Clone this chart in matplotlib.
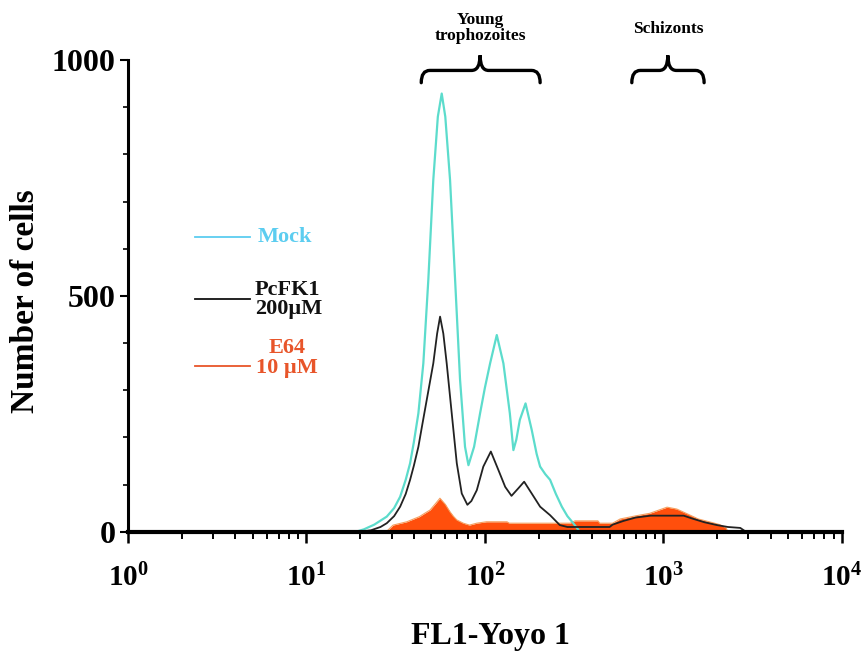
import matplotlib
matplotlib.use("Agg")
import matplotlib.pyplot as plt
from matplotlib.path import Path
from matplotlib.patches import PathPatch
from matplotlib.lines import Line2D
import numpy as np

plt.rcParams['font.family'] = ['Liberation Serif', 'DejaVu Serif']
plt.rcParams['font.weight'] = 'bold'
plt.rcParams['mathtext.fontset'] = 'custom'
plt.rcParams['mathtext.rm'] = 'Liberation Serif:bold'
plt.rcParams['mathtext.bf'] = 'Liberation Serif:bold'
plt.rcParams['mathtext.it'] = 'Liberation Serif:bold'

# Mock histogram (FL1 value, count)
mock_x = [1, 19, 21, 24, 28.2, 31, 33.5, 36, 38.1, 40, 42.4, 45.2, 48.2, 51.4, 54.5, 57.3,
          60, 63.8, 68.1, 72.6, 77.4, 80.9, 87, 94, 100, 107, 116.6, 127, 138, 144.5, 150,
          157, 169, 183, 195, 204, 218, 232, 250, 270, 290, 313, 340, 10000]
mock_y = [0, 0, 5, 15, 32, 50, 74, 110, 145, 190, 251, 357, 534, 746, 880, 929,
          880, 746, 534, 322, 180, 141, 180, 251, 305, 357, 417, 357, 251, 173, 195,
          237, 272, 216, 165, 138, 122, 110, 80, 53, 33, 18, 0, 0]

# PcFK1 200uM
pcfk_x = [1, 20, 23, 26, 28.2, 31, 33.5, 36, 38.1, 40, 42.4, 44.5, 47.2, 51.4, 54, 56.1,
          58.5, 61.1, 65.2, 69.6, 74.2, 79.8, 84, 90.1, 98, 108, 119, 130, 141, 154, 166,
          183, 204, 232, 263, 290, 500, 520, 600, 700, 850, 1300, 1450, 1700, 2000, 2300,
          2700, 2900, 10000]
pcfk_y = [0, 0, 3, 10, 18, 33, 53, 80, 110, 140, 180, 225, 279, 357, 420, 456,
          420, 357, 251, 145, 81, 57, 65, 88, 138, 170, 131, 95, 76, 92, 106,
          81, 53, 35, 14, 10, 10, 15, 23, 30, 34, 34, 28, 20, 14, 10,
          8, 0, 0]

# E64 10uM
e64_x = [1, 28, 30.6, 36.5, 43, 46, 49.3, 53, 56, 60, 63.8, 66.5, 69.6, 75.7, 82, 90, 102,
         133, 137, 300, 320, 430, 440, 520, 573, 710, 840, 980, 1050, 1190, 1360, 1570,
         1850, 2070, 2200, 2240, 2300, 10000]
e64_y = [0, 0, 14, 21, 32, 39, 46, 60, 71, 58, 42, 33, 25, 18, 14, 18, 21,
         21, 18, 18, 23, 23, 18, 18, 27, 34, 39, 48, 52, 48, 38, 27,
         20, 15, 10, 9, 0, 0]

legend_labels = ["Mock", "PcFK1\n200\u00b5M", "E64\n10 \u00b5M"]
xtick_vals = [1, 10, 100, 1000, 10000]
xtick_labels = [r'$\mathbf{10^{0}}$', r'$\mathbf{10^{1}}$', r'$\mathbf{10^{2}}$',
                r'$\mathbf{10^{3}}$', r'$\mathbf{10^{4}}$']
ytick_vals = [0, 500, 1000]

mock_col = '#5cdccc'
mock_leg = '#5ccdf0'
e64_col = '#ff4f0c'
e64_leg = '#e8552a'

fig = plt.figure(figsize=(8.66, 6.6), dpi=100)
ax = fig.add_axes([0.1478, 0.1944, 0.972 - 0.1478, 0.909 - 0.1944])

ax.fill_between(e64_x, e64_y, 0, color=e64_col, lw=0, zorder=1)
ax.plot(e64_x, e64_y, color='#f5a060', lw=0.8, zorder=1.1)
ax.plot(mock_x, mock_y, color=mock_col, lw=1.6, zorder=2)
ax.plot(pcfk_x, pcfk_y, color='#222222', lw=1.3, zorder=2.1)

ax.set_xscale('log')
ax.set_xlim(1, 10000)
ax.set_ylim(0, 1000)

for s in ['top', 'right']:
    ax.spines[s].set_visible(False)
ax.spines['left'].set_linewidth(2.2)
ax.spines['bottom'].set_linewidth(3.0)
ax.spines['bottom'].set_zorder(5)

ax.set_xticks(xtick_vals)
ax.set_xticklabels(xtick_labels, fontsize=21)
ax.xaxis.set_minor_locator(matplotlib.ticker.LogLocator(base=10, subs=np.arange(2, 10)))
ax.xaxis.set_minor_formatter(matplotlib.ticker.NullFormatter())
ax.tick_params(axis='x', which='major', length=8, width=1.8, pad=15, direction='out')
ax.tick_params(axis='x', which='minor', length=5, width=1.4, direction='out')

ax.set_yticks(ytick_vals)
ax.set_yticklabels([str(v) for v in ytick_vals], fontsize=23, fontweight='bold')
ax.yaxis.set_minor_locator(matplotlib.ticker.MultipleLocator(100))
ax.tick_params(axis='y', which='major', length=6, width=1.5, pad=3)
ax.tick_params(axis='y', which='minor', length=3.5, width=1.2)

fig.text(0.029, 0.544, "Number of cells", rotation=90, ha='center', va='center',
         fontsize=24, fontweight='bold')
fig.text(0.566, 0.035, "FL1-Yoyo 1", ha='center', va='center', fontsize=23, fontweight='bold')

# legend drawn by hand
leg_y = [0.6414, 0.547, 0.4455]
leg_cols = [mock_leg, '#111111', e64_leg]
for yy, c in zip(leg_y, leg_cols):
    fig.add_artist(Line2D([0.225, 0.289], [yy, yy], color=c, lw=1.3))
fig.text(0.298, 0.641, legend_labels[0], color=mock_leg, fontsize=16, fontweight='bold',
         ha='left', va='center')
fig.text(0.2945, 0.546, legend_labels[1], color='#111111', fontsize=16, fontweight='bold',
         ha='left', va='center', linespacing=0.95)
fig.text(0.331, 0.4576, legend_labels[2], color=e64_leg, fontsize=16, fontweight='bold',
         ha='center', va='center', linespacing=0.95)

# braces above the peaks
groups = ["Young\ntrophozoites", "Schizonts"]
brace_lo = [44, 666]
brace_hi = [204, 1693]
brace_mid = [94, 1060]
label_y = [0.958, 0.956]


def to_ax(xv):
    return ax.transAxes.inverted().transform(ax.transData.transform((xv, 1)))[0]


fig.canvas.draw()
yb = 0.978
for lo, hi, mid, name, ly in zip(brace_lo, brace_hi, brace_mid, groups, label_y):
    x0, x1, xm = to_ax(lo), to_ax(hi), to_ax(mid)
    dx = 0.012
    verts = [(x0, yb - 0.026), (x0, yb), (x0 + dx, yb),
             (xm - dx, yb), (xm, yb), (xm, yb + 0.032),
             (xm, yb), (xm + dx, yb),
             (x1 - dx, yb), (x1, yb), (x1, yb - 0.026)]
    codes = [Path.MOVETO, Path.CURVE3, Path.CURVE3,
             Path.LINETO, Path.CURVE3, Path.CURVE3,
             Path.CURVE3, Path.CURVE3,
             Path.LINETO, Path.CURVE3, Path.CURVE3]
    ax.add_patch(PathPatch(Path(verts, codes), transform=ax.transAxes, fill=False,
                           lw=2.4, color='black', clip_on=False, capstyle='round'))
    tx = fig.transFigure.inverted().transform(ax.transAxes.transform((xm, 0)))[0]
    fig.text(tx, ly, name, ha='center', va='center', fontsize=12.5, fontweight='bold',
             linespacing=1.0)

fig.savefig("out.png", dpi=100)
